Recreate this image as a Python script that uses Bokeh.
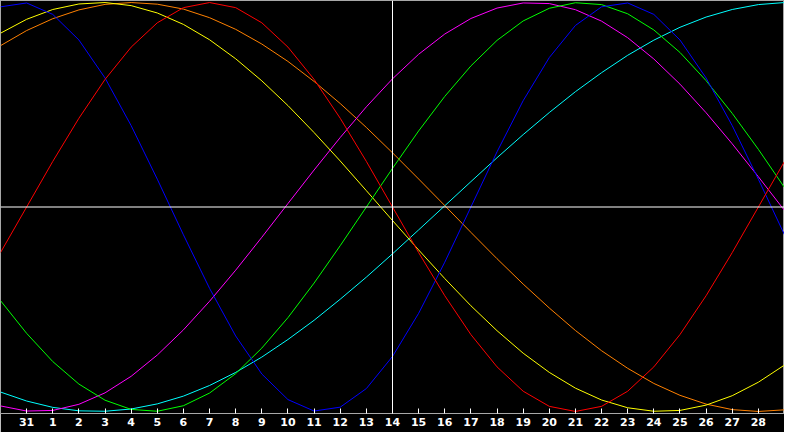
from bokeh.plotting import figure
from bokeh.models import Span, FixedTicker, Range1d
from bokeh.embed import file_html
from bokeh.resources import INLINE

# day offsets (0 = day "31"), one sample per day, spanning the whole frame
x_days = list(range(-1, 30))
tick_pos = list(range(0, 29))
tick_labels = ["31"] + [str(d) for d in range(1, 29)]

blue = [0.979, 0.998, 0.942, 0.817, 0.631, 0.398, 0.136, -0.136, -0.398, -0.631,
        -0.817, -0.942, -0.998, -0.979, -0.888, -0.731, -0.520, -0.270, 0.000, 0.270,
        0.520, 0.731, 0.888, 0.979, 0.998, 0.942, 0.817, 0.631, 0.398, 0.136, -0.136]
red = [-0.223, 0.000, 0.223, 0.434, 0.624, 0.782, 0.901, 0.975, 1.000, 0.975,
       0.901, 0.782, 0.624, 0.434, 0.223, 0.000, -0.223, -0.434, -0.624, -0.782,
       -0.901, -0.975, -1.000, -0.975, -0.901, -0.782, -0.624, -0.434, -0.223, 0.000, 0.223]
green = [-0.458, -0.618, -0.756, -0.866, -0.945, -0.990, -0.999, -0.972, -0.910, -0.815,
         -0.690, -0.541, -0.372, -0.189, 0.000, 0.189, 0.372, 0.541, 0.690, 0.815,
         0.910, 0.972, 0.999, 0.990, 0.945, 0.866, 0.756, 0.618, 0.458, 0.282, 0.095]
magenta = [-0.973, -0.998, -0.995, -0.965, -0.909, -0.828, -0.724, -0.601, -0.461, -0.309,
           -0.148, 0.017, 0.181, 0.340, 0.490, 0.627, 0.747, 0.846, 0.922, 0.973,
           0.998, 0.995, 0.965, 0.909, 0.828, 0.724, 0.601, 0.461, 0.309, 0.148, -0.017]
yellow = [0.850, 0.918, 0.966, 0.993, 1.000, 0.985, 0.949, 0.893, 0.818, 0.725,
          0.617, 0.496, 0.364, 0.225, 0.080, -0.066, -0.210, -0.350, -0.483, -0.605,
          -0.715, -0.809, -0.886, -0.944, -0.982, -0.999, -0.995, -0.969, -0.923, -0.857, -0.773]
orange = [0.789, 0.863, 0.921, 0.964, 0.991, 1.000, 0.992, 0.968, 0.926, 0.869,
          0.797, 0.712, 0.614, 0.506, 0.389, 0.265, 0.137, 0.007, -0.124, -0.253,
          -0.377, -0.494, -0.604, -0.703, -0.789, -0.863, -0.921, -0.964, -0.991, -1.000, -0.992]
cyan = [-0.905, -0.949, -0.980, -0.997, -0.999, -0.988, -0.963, -0.925, -0.873, -0.809,
        -0.734, -0.648, -0.554, -0.451, -0.343, -0.229, -0.112, 0.006, 0.124, 0.241,
        0.354, 0.462, 0.564, 0.657, 0.742, 0.816, 0.879, 0.929, 0.966, 0.990, 1.000]

series = [
    (cyan, "#00ffff"),
    (orange, "#ff8000"),
    (yellow, "#ffff00"),
    (magenta, "#ff00ff"),
    (green, "#00ff00"),
    (blue, "#0000ff"),
    (red, "#ff0000"),
]

p = figure(width=784, height=432, output_backend="svg", toolbar_location=None,
           x_range=Range1d(-1, 29), y_range=Range1d(-1.01, 1.01),
           y_axis_location=None, min_border=0)
p.min_border_bottom = 19
p.background_fill_color = "black"
p.border_fill_color = "black"
p.outline_line_color = "#a8a8a8"
p.grid.visible = False

for vals, col in series:
    p.line(x_days, vals, line_color=col, line_width=1)

p.add_layout(Span(location=14, dimension="height", line_color="white", line_width=1))
p.add_layout(Span(location=0, dimension="width", line_color="white", line_width=1))

ax = p.xaxis[0]
ax.ticker = FixedTicker(ticks=tick_pos)
ax.major_label_overrides = {pos: lab for pos, lab in zip(tick_pos, tick_labels)}
ax.axis_line_color = "#a8a8a8"
ax.major_tick_line_color = "white"
ax.major_tick_in = 5
ax.major_tick_out = 0
ax.minor_tick_line_color = None
ax.major_label_text_color = "white"
ax.major_label_text_font = "DejaVu Sans"
ax.major_label_text_font_style = "bold"
ax.major_label_text_font_size = "11px"
ax.major_label_standoff = 4

open("out.html", "w").write(file_html(p, INLINE))
